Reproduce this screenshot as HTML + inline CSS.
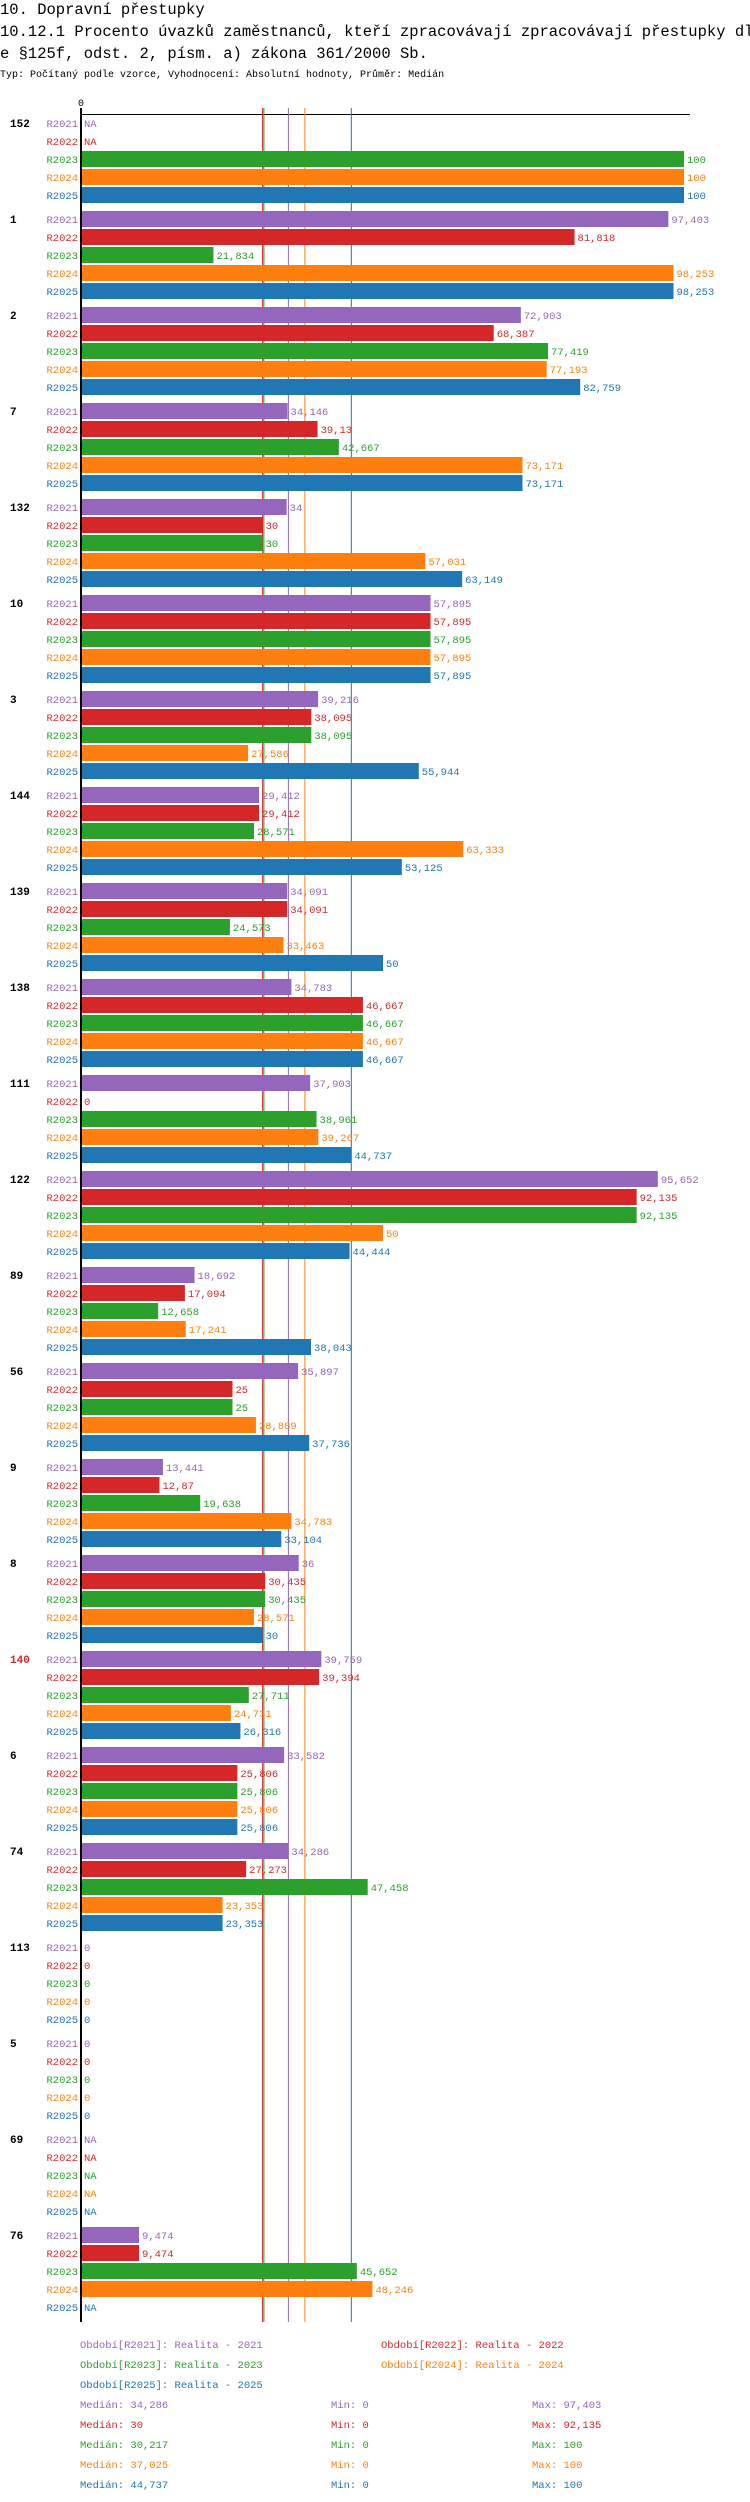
<!DOCTYPE html>
<html><head><meta charset="utf-8"><style>
html,body{margin:0;padding:0;background:#fff;}
svg{display:block;font-family:"Liberation Mono",monospace;}
</style></head><body>
<svg id="chart" width="750" height="2502" xmlns="http://www.w3.org/2000/svg">
<text x="0" y="14" font-size="15.5">10. Dopravní přestupky</text>
<text x="0" y="36" font-size="15.5">10.12.1 Procento úvazků zaměstnanců, kteří zpracovávají zpracovávají přestupky dl</text>
<text x="0" y="58" font-size="15.5">e §125f, odst. 2, písm. a) zákona 361/2000 Sb.</text>
<text x="0" y="77" font-size="10">Typ: Počítaný podle vzorce, Vyhodnocení: Absolutní hodnoty, Průměr: Medián</text>
<g id="plot"></g>
</svg>
<script>
const groups = ["152","1","2","7","132","10","3","144","139","138","111","122","89","56","9","8","140","6","74","113","5","69","76"];
const periods = ["R2021","R2022","R2023","R2024","R2025"];
const v2021 = [null,97.403,72.903,34.146,34,57.895,39.216,29.412,34.091,34.783,37.903,95.652,18.692,35.897,13.441,36,39.759,33.582,34.286,0,0,null,9.474];
const v2022 = [null,81.818,68.387,39.13,30,57.895,38.095,29.412,34.091,46.667,0,92.135,17.094,25,12.87,30.435,39.394,25.806,27.273,0,0,null,9.474];
const v2023 = [100,21.834,77.419,42.667,30,57.895,38.095,28.571,24.573,46.667,38.961,92.135,12.658,25,19.638,30.435,27.711,25.806,47.458,0,0,null,45.652];
const v2024 = [100,98.253,77.193,73.171,57.031,57.895,27.586,63.333,33.463,46.667,39.267,50,17.241,28.889,34.783,28.571,24.731,25.806,23.353,0,0,null,48.246];
const v2025 = [100,98.253,82.759,73.171,63.149,57.895,55.944,53.125,50,46.667,44.737,44.444,38.043,37.736,33.104,30,26.316,25.806,23.353,0,0,null,null];
const medians = [34.286,30,30.217,37.025,44.737];
const mins = [0,0,0,0,0];
const maxs = [97.403,92.135,100,100,100];
const legendNames = ["Realita - 2021","Realita - 2022","Realita - 2023","Realita - 2024","Realita - 2025"];
const series = [v2021,v2022,v2023,v2024,v2025];
const colors = ["#9467bd","#d62728","#2ca02c","#ff7f0e","#1f77b4"];

const NS="http://www.w3.org/2000/svg";
const plot=document.getElementById('plot');
const x0=82, xScale=6.02;
const x=v=>x0+v*xScale;
const rowH=18, groupH=96, firstRow=123;
const rowY=(g,r)=>firstRow+g*groupH+r*rowH;
const fmt=v=>String(v).replace('.',',');
function mk(tag,attrs,txt){const e=document.createElementNS(NS,tag);for(const k in attrs)e.setAttribute(k,attrs[k]);if(txt!==undefined)e.textContent=txt;plot.appendChild(e);return e;}

const t0=mk('text',{x:81,y:106,'font-size':10,'text-anchor':'middle'},'0');


const axisTop=mk('line',{x1:80,y1:114.5,x2:690,y2:114.5,stroke:'#000','stroke-width':1});



const yEnd=rowY(groups.length-1,4)+15;
const order=[1,2,0,3,4];
order.forEach(i=>{
  const l=mk('line',{x1:x(medians[i]),y1:108,x2:x(medians[i]),y2:yEnd,stroke:colors[i],'stroke-width':1});
  
  
});

groups.forEach((g,gi)=>{
  const gl=mk('text',{x:10,y:rowY(gi,0)+4,'font-size':11,'font-weight':'bold',fill:g==="140"?"#d62728":"#000"},g);
  
  
  series.forEach((s,si)=>{
    const cy=rowY(gi,si);
    const pl=mk('text',{x:78,y:cy+4,'font-size':10.5,'text-anchor':'end',fill:colors[si]},periods[si]);
    
    
    const v=s[gi];
    let end=x0+1;
    if(v!==null && v>0){
      const b=mk('rect',{x:x0,y:cy-8,width:x(v)-x0,height:16,fill:colors[si]});
      
      
      end=x(v)+2;
    }
    const vl=mk('text',{x:end+1,y:cy+4,'font-size':10.5,fill:colors[si]},v===null?'NA':fmt(v));
    
    
  });
});
const ax=mk('line',{x1:81,y1:108,x2:81,y2:yEnd,stroke:'#000','stroke-width':2});



const legPos=[[80,2348],[381,2348],[80,2368],[381,2368],[80,2388]];
legendNames.forEach((n,i)=>{
  const t=mk('text',{x:legPos[i][0],y:legPos[i][1],'font-size':10.5,fill:colors[i]},'Období['+periods[i]+']: '+n);
  
  
});
medians.forEach((m,i)=>{
  const y=2408+i*20;
  const a=mk('text',{x:80,y:y,'font-size':10.5,fill:colors[i]},'Medián: '+fmt(m));
  
  
  const b=mk('text',{x:331,y:y,'font-size':10.5,fill:colors[i]},'Min: '+fmt(mins[i]));
  
  
  const c=mk('text',{x:532,y:y,'font-size':10.5,fill:colors[i]},'Max: '+fmt(maxs[i]));
  
  
});
</script>
</body></html>
